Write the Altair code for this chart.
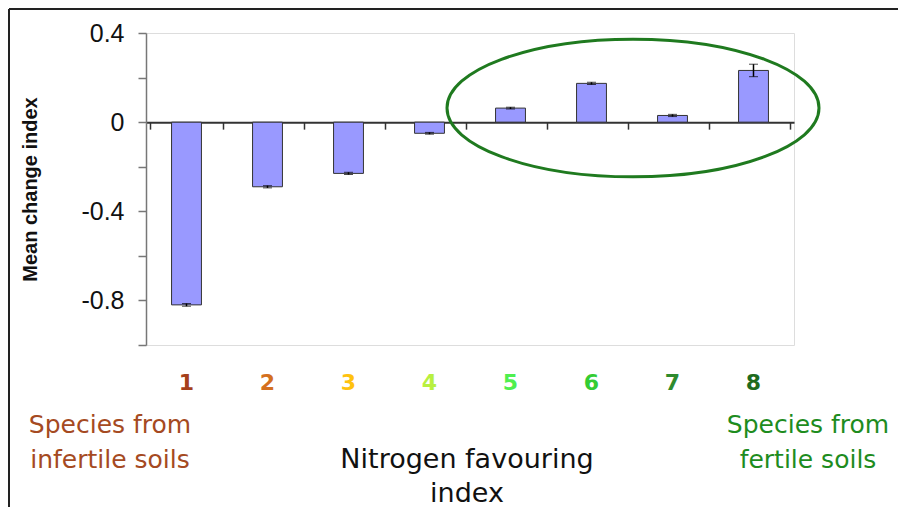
import altair as alt
import pandas as pd

# ---- data ----
index_vals = [1, 2, 3, 4, 5, 6, 7, 8]
mean_change = [-0.82, -0.29, -0.23, -0.05, 0.063, 0.174, 0.03, 0.232]
err = [0.006, 0.005, 0.005, 0.004, 0.004, 0.005, 0.005, 0.028]
tick_colors = ["#A5401A", "#D4701E", "#FFC20E", "#B8F040", "#4FEF4F", "#33CC33", "#2E8B2E", "#1E6B1E"]

y_values = [0.4, 0.2, 0.0, -0.2, -0.4, -0.6, -0.8, -1.0]
y_labels = {0.4: "0.4", 0.0: "0", -0.4: "-0.4", -0.8: "-0.8"}

left_text = ["Species from", "infertile soils"]
mid_text = ["Nitrogen favouring", "index"]
right_text = ["Species from", "fertile soils"]

df = pd.DataFrame({
    "idx": index_vals,
    "mean": mean_change,
    "lo": [m - e for m, e in zip(mean_change, err)],
    "hi": [m + e for m, e in zip(mean_change, err)],
})

W, H = 648, 312
color_arr = "[" + ",".join("'%s'" % c for c in tick_colors) + "]"
label_expr = " : ".join("datum.value == %s ? '%s'" % (k, v) for k, v in y_labels.items()) + " : ''"

yscale = alt.Scale(domain=[-1.0, 0.4], nice=False, zero=False)
ytitle = "Mean change index"
yaxis = alt.Axis(values=y_values, labelExpr=label_expr, grid=False,
                 tickSize=8, tickColor="#777777", tickWidth=1.5,
                 domainColor="#777777", domainWidth=1.5,
                 labelFont="Liberation Sans", labelFontSize=25,
                 labelColor="#111111", labelPadding=14,
                 titleFont="Liberation Sans", titleFontSize=20,
                 titleFontWeight="bold", titleColor="#111111",
                 titleX=-116, titleY=H / 2, titleBaseline="middle")

base = alt.Chart(df)

zero_axis = base.mark_bar(opacity=0).encode(
    x=alt.X("idx:O", title=None,
            axis=alt.Axis(orient="bottom", offset=-(H * 1.0 / 1.4), labels=False,
                          tickBand="extent", tickSize=7, tickColor="#333333", tickWidth=1.5,
                          domainColor="#333333", domainWidth=2)),
    y=alt.Y("mean:Q", scale=yscale, title=ytitle, axis=yaxis),
)

bars = base.mark_bar(color="#9999FF", stroke="#333333", strokeWidth=1,
                     width=alt.RelativeBandSize(0.41)).encode(
    x=alt.X("idx:O", title=None,
            axis=alt.Axis(orient="bottom", labelAngle=0, ticks=False, domain=False,
                          labelPadding=27, labelFontSize=22, labelFont="DejaVu Sans",
                          labelFontWeight="bold",
                          labelColor={"expr": color_arr + "[datum.value-1]"})),
    y=alt.Y("mean:Q", scale=yscale, title=ytitle, axis=yaxis),
)

errbars = base.mark_errorbar(ticks={"size": 9, "color": "black", "strokeWidth": 1.5},
                             rule={"color": "black", "strokeWidth": 1.5}).encode(
    x=alt.X("idx:O", axis=None),
    y=alt.Y("lo:Q", scale=yscale, title=ytitle, axis=yaxis),
    y2="hi:Q",
)

one = alt.Data(values=[{}])

ellipse_path = ("M -1 0 C -1 -0.2044 -0.5523 -0.37 0 -0.37 C 0.5523 -0.37 1 -0.2044 1 0 "
                "C 1 0.2044 0.5523 0.37 0 0.37 C -0.5523 0.37 -1 0.2044 -1 0 Z")
ellipse = alt.Chart(one).mark_point(shape=ellipse_path, filled=False, stroke="#1F7A1F",
                                    strokeWidth=3, opacity=1).encode(
    x=alt.value(633 - 146), y=alt.value(108 - 33), size=alt.value(372 * 372))

txt_left = alt.Chart(one).mark_text(font="DejaVu Sans", fontSize=25, color="#A54A22",
                                    lineHeight=35, baseline="middle", align="center").encode(
    x=alt.value(110 - 146), y=alt.value(425 - 33), text=alt.value(left_text))
txt_mid = alt.Chart(one).mark_text(font="DejaVu Sans", fontSize=27, color="#111111",
                                   lineHeight=34, baseline="middle", align="center").encode(
    x=alt.value(467 - 146), y=alt.value(460 - 33), text=alt.value(mid_text))
txt_right = alt.Chart(one).mark_text(font="DejaVu Sans", fontSize=25, color="#1E8C1E",
                                     lineHeight=35, baseline="middle", align="center").encode(
    x=alt.value(808 - 146), y=alt.value(425 - 33), text=alt.value(right_text))

frame_top = alt.Chart(one).mark_rule(color="#222222", strokeWidth=2).encode(
    x=alt.value(-137), x2=alt.value(752), y=alt.value(-24))
frame_left = alt.Chart(one).mark_rule(color="#222222", strokeWidth=2).encode(
    x=alt.value(-137), y=alt.value(-24), y2=alt.value(480))

chart = alt.layer(
    frame_top, frame_left, zero_axis, bars, errbars, ellipse, txt_left, txt_mid, txt_right
).resolve_axis(x="independent").properties(
    width=W, height=H,
    autosize=alt.AutoSizeParams(type="none"),
    padding={"left": 138, "top": 25, "right": 104, "bottom": 162},
).configure_view(stroke="#BFBFBF", strokeWidth=1.5).configure(background="white")

chart.save("out.html", embed_options={"renderer": "svg", "actions": False})
